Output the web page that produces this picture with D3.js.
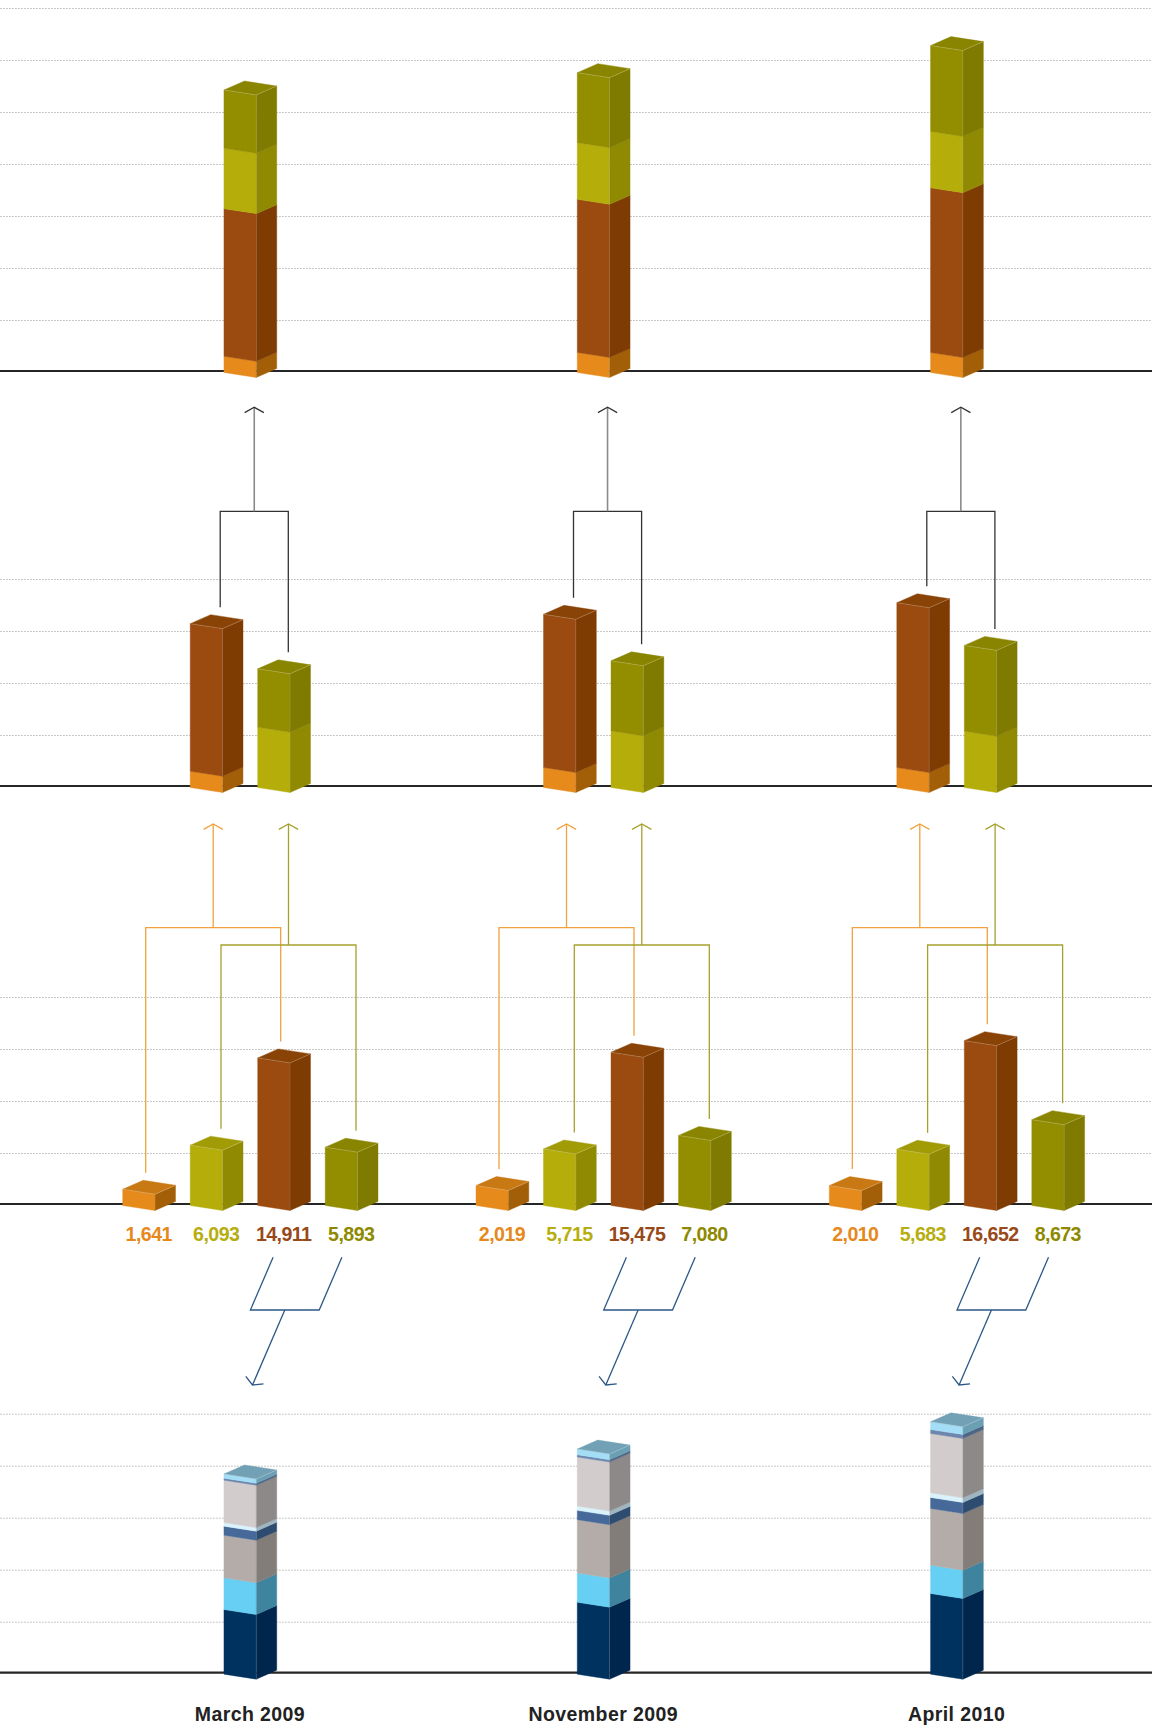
<!DOCTYPE html>
<html>
<head>
<meta charset="utf-8">
<script src="https://cdn.jsdelivr.net/npm/d3@7"></script>
<style>
  html, body { margin: 0; padding: 0; background: #fff; }
  svg { display: block; }
  text { font-family: "Liberation Sans", Arial, Helvetica, sans-serif; font-weight: bold; }
</style>
</head>
<body>
<div id="chart"></div>
<script>
// ---------------- DATA ----------------
const periods = ["March 2009", "November 2009", "April 2010"];

// component series (panel 3, with labels)
const orangeVals = [1641, 2019, 2010];
const yellowVals = [6093, 5715, 5683];
const brownVals  = [14911, 15475, 16652];
const oliveVals  = [5893, 7080, 8673];
const valueLabels = [
  ["1,641", "6,093", "14,911", "5,893"],
  ["2,019", "5,715", "15,475", "7,080"],
  ["2,010", "5,683", "16,652", "8,673"]
];

// breakdown series (panel 4, bottom to top)
const navyVals      = [6530, 7270, 8150];
const lightBlueVals = [3200, 2960, 2860];
const taupeVals     = [4310, 5380, 5730];
const darkBlueVals  = [910, 940, 1110];
const paleBlueVals  = [370, 430, 470];
const lightGreyVals = [4270, 4950, 5990];
const midBlueVals   = [200, 230, 400];
const skyBlueVals   = [430, 580, 780];

// ---------------- STYLE ----------------
const C = {
  orange:    {front: "#e68a1b", side: "#a35f08", top: "#c97914", label: "#e6891d"},
  yellow:    {front: "#b5ad0a", side: "#8f8a02", top: "#a19b05", label: "#b6ae10"},
  brown:     {front: "#9b4b0f", side: "#7e3b02", top: "#8a4306", label: "#98491a"},
  olive:     {front: "#938d00", side: "#7f7a00", top: "#8a8500", label: "#8e8900"},
  navy:      {front: "#00325f", side: "#00264d", top: "#1a4a75"},
  lightBlue: {front: "#67cff4", side: "#3f849e", top: "#55b0d0"},
  taupe:     {front: "#b4aca9", side: "#837d7a", top: "#a09895"},
  darkBlue:  {front: "#46699a", side: "#2e4c70", top: "#3d5d88"},
  paleBlue:  {front: "#d9f2fb", side: "#9fb6c0", top: "#bcd8e2"},
  lightGrey: {front: "#d2cccc", side: "#8e8989", top: "#b8b2b2"},
  midBlue:   {front: "#6c86ad", side: "#4d6584", top: "#5f7aa0"},
  skyBlue:   {front: "#a3def6", side: "#6b9fb4", top: "#72a1b5"}
};

const W = 1152, H = 1726;
const BW = 32.3, SL = 5, DX = 20.5, DZ = 9;   // 3D box geometry
const PX_PER_UNIT = 0.0099;

const svg = d3.select("#chart").append("svg").attr("width", W).attr("height", H);

// panels: baseline y and number of gridlines
const panels = [
  {base: 371,    grids: 7},
  {base: 786,    grids: 4},
  {base: 1204,   grids: 4},
  {base: 1672.7, grids: 5}
];
const yScales = panels.map(p => d3.scaleLinear().domain([0, 10000]).range([p.base + 1.5, p.base + 1.5 - 10000 * PX_PER_UNIT]));

// x scales
const xG = d3.scalePoint().domain(periods).range([122.7, 829.3]);
const slot = d3.scaleLinear().domain([0, 3]).range([0, 202.5]);

// gridlines + baselines
const gridG = svg.append("g");
panels.forEach(p => {
  for (let k = 0; k < p.grids; k++) {
    const y = p.base - 50.5 - 52 * k;
    gridG.append("line").attr("x1", 0).attr("x2", W).attr("y1", y).attr("y2", y)
      .attr("stroke", "#c2c2c2").attr("stroke-width", 1).attr("stroke-dasharray", "1.8,1.2");
  }
  gridG.append("line").attr("x1", 0).attr("x2", W).attr("y1", p.base).attr("y2", p.base)
    .attr("stroke", "#262626").attr("stroke-width", 2.2);
});

const line = d3.line();
const barsG = svg.append("g");

function prism(x0, yb, yt, col, withTop) {
  const front = [[x0, yt], [x0 + BW, yt + SL], [x0 + BW, yb + SL], [x0, yb]];
  const side = [[x0 + BW, yt + SL], [x0 + BW + DX, yt + SL - DZ], [x0 + BW + DX, yb + SL - DZ], [x0 + BW, yb + SL]];
  barsG.append("path").attr("d", line(front) + "Z").attr("fill", col.front)
    .attr("stroke", col.front).attr("stroke-width", 0.4);
  barsG.append("path").attr("d", line(side) + "Z").attr("fill", col.side)
    .attr("stroke", col.side).attr("stroke-width", 0.4);
  if (withTop) {
    const top = [[x0, yt], [x0 + BW, yt + SL], [x0 + BW + DX, yt + SL - DZ], [x0 + DX, yt - DZ]];
    barsG.append("path").attr("d", line(top) + "Z").attr("fill", col.top)
      .attr("stroke", col.top).attr("stroke-width", 0.4);
    barsG.append("path").attr("d", line([[x0, yt], [x0 + BW, yt + SL], [x0 + BW + DX, yt + SL - DZ]]))
      .attr("fill", "none").attr("stroke", "rgba(255,255,255,0.28)").attr("stroke-width", 0.7);
  }
  barsG.append("path").attr("d", line([[x0 + BW, yt + SL], [x0 + BW, yb + SL]]))
    .attr("fill", "none").attr("stroke", "rgba(255,255,255,0.22)").attr("stroke-width", 0.7);
}

function stack(x0, y, vals, cols) {
  let acc = 0;
  vals.forEach((v, i) => {
    const yb = y(acc), yt = y(acc + v);
    prism(x0, yb, yt, cols[i], i === vals.length - 1);
    acc += v;
  });
  return y(acc);
}

const topY = [[], [], [], []];

periods.forEach((p, gi) => {
  const x0 = xG(p);
  topY[0][gi] = stack(x0 + slot(1.5), yScales[0],
    [orangeVals[gi], brownVals[gi], yellowVals[gi], oliveVals[gi]],
    [C.orange, C.brown, C.yellow, C.olive]);
  topY[1][gi] = [
    stack(x0 + slot(1), yScales[1], [orangeVals[gi], brownVals[gi]], [C.orange, C.brown]),
    stack(x0 + slot(2), yScales[1], [yellowVals[gi], oliveVals[gi]], [C.yellow, C.olive])
  ];
  const comps = [orangeVals[gi], yellowVals[gi], brownVals[gi], oliveVals[gi]];
  const cols = [C.orange, C.yellow, C.brown, C.olive];
  topY[2][gi] = comps.map((v, i) => stack(x0 + slot(i), yScales[2], [v], [cols[i]]));
  stack(x0 + slot(1.5), yScales[3],
    [navyVals[gi], lightBlueVals[gi], taupeVals[gi], darkBlueVals[gi], paleBlueVals[gi], lightGreyVals[gi], midBlueVals[gi], skyBlueVals[gi]],
    [C.navy, C.lightBlue, C.taupe, C.darkBlue, C.paleBlue, C.lightGrey, C.midBlue, C.skyBlue]);
});

// ---------------- CONNECTORS ----------------
const conG = svg.append("g").attr("fill", "none");

function arrowHead(tx, ty, dirx, diry, color, width) {
  const len = 11, ang = 61 * Math.PI / 180;
  const bx = -dirx, by = -diry;
  const r = a => [tx + len * (bx * Math.cos(a) - by * Math.sin(a)), ty + len * (bx * Math.sin(a) + by * Math.cos(a))];
  conG.append("path").attr("d", line([r(ang), [tx, ty], r(-ang)]))
    .attr("stroke", color).attr("stroke-width", width);
}

periods.forEach((p, gi) => {
  const x0 = xG(p);
  const tops3 = topY[2][gi];
  {
    const col = "#f0a23e";
    const lx = x0 + slot(0) + 23, rx = x0 + slot(2) + 23, hy = 927.7;
    const sx = (lx + rx) / 2, tip = panels[1].base + 38;
    conG.append("path").attr("d", `M${lx},${tops3[0] - 16.5}V${hy}H${rx}V${tops3[2] - 16.5}`)
      .attr("stroke", col).attr("stroke-width", 1.3);
    conG.append("path").attr("d", `M${sx},${hy}V${tip}`).attr("stroke", col).attr("stroke-width", 1.3);
    arrowHead(sx, tip, 0, -1, col, 1.3);
  }
  {
    const col = "#a6a12e";
    const lx = x0 + slot(1) + 30.8, rx = x0 + slot(3) + 30.8, hy = 945;
    const sx = (lx + rx) / 2, tip = panels[1].base + 38;
    conG.append("path").attr("d", `M${lx},${tops3[1] - 16.5}V${hy}H${rx}V${tops3[3] - 16.5}`)
      .attr("stroke", col).attr("stroke-width", 1.3);
    conG.append("path").attr("d", `M${sx},${hy}V${tip}`).attr("stroke", col).attr("stroke-width", 1.3);
    arrowHead(sx, tip, 0, -1, col, 1.3);
  }
  {
    const t2 = topY[1][gi];
    const lx = x0 + slot(1) + 30, rx = x0 + slot(2) + 30.6, hy = 511.3;
    const sx = (lx + rx) / 2, tip = panels[0].base + 36.3;
    conG.append("path").attr("d", `M${lx},${t2[0] - 16.5}V${hy}H${rx}V${t2[1] - 16.5}`)
      .attr("stroke", "#333").attr("stroke-width", 1.3);
    conG.append("path").attr("d", `M${sx},${hy}V${tip}`).attr("stroke", "#8a8a8a").attr("stroke-width", 1.6);
    arrowHead(sx, tip, 0, -1, "#333", 1.3);
  }
  {
    const col = "#2d5886";
    const y1 = 1257.3, hy = 1310, k = -22.7 / 52.7;
    const a1 = x0 + slot(2) + 15.4, a2 = x0 + slot(3) + 16.7;
    const b1 = a1 + k * (hy - y1), b2 = a2 + k * (hy - y1);
    const sx = (b1 + b2) / 2, tipY = 1385, tipX = sx + k * (tipY - hy);
    conG.append("path").attr("d", `M${a1},${y1}L${b1},${hy}H${b2}L${a2},${y1}`)
      .attr("stroke", col).attr("stroke-width", 1.3);
    conG.append("path").attr("d", `M${sx},${hy}L${tipX},${tipY}`).attr("stroke", col).attr("stroke-width", 1.3);
    const dl = Math.hypot(tipX - sx, tipY - hy);
    arrowHead(tipX, tipY, (tipX - sx) / dl, (tipY - hy) / dl, col, 1.3);
  }
});

// ---------------- LABELS ----------------
const labG = svg.append("g");
const labelCols = [C.orange.label, C.yellow.label, C.brown.label, C.olive.label];
periods.forEach((p, gi) => {
  const x0 = xG(p);
  valueLabels[gi].forEach((t, i) => {
    labG.append("text").attr("x", x0 + slot(i) + 26).attr("y", 1240.5)
      .attr("text-anchor", "middle").attr("font-size", 19.6).attr("letter-spacing", "-0.55px")
      .attr("fill", labelCols[i]).text(t);
  });
  labG.append("text").attr("x", x0 + slot(1.5) + 26).attr("y", 1720.7)
    .attr("text-anchor", "middle").attr("font-size", 19.5).attr("letter-spacing", "0.4px")
    .attr("fill", "#222").text(p);
});
</script>
</body>
</html>
